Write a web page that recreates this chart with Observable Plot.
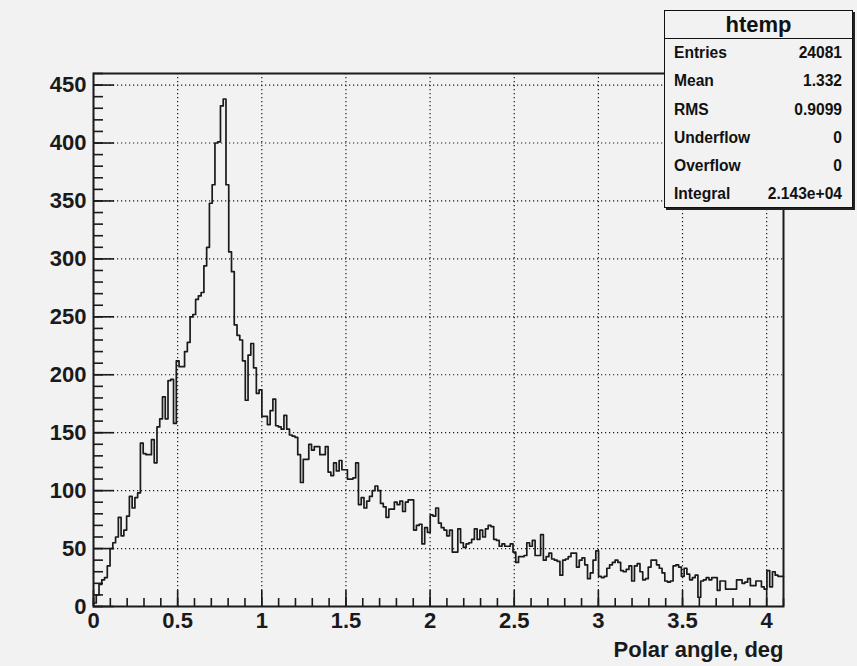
<!DOCTYPE html>
<html><head><meta charset="utf-8">
<script src="https://cdn.jsdelivr.net/npm/d3@7"></script>
<script src="https://cdn.jsdelivr.net/npm/@observablehq/plot@0.6"></script>
<style>
html,body{margin:0;padding:0;background:#f2f2f2;}
#wrap{position:relative;width:857px;height:666px;font-family:"Liberation Sans",Arial,Helvetica,sans-serif;}
#stats{position:absolute;left:664px;top:10px;width:189px;height:198px;box-sizing:border-box;border:1px solid #111;background:#f2f2f2;box-shadow:2px 2px 0 #222;font-weight:bold;color:#111;}
#stats .title{height:27px;line-height:27px;text-align:center;font-size:22px;border-bottom:1px solid #111;}
#stats .row{display:flex;justify-content:space-between;height:28.3px;line-height:28.3px;font-size:15.6px;padding:0 10px 0 9px;}
</style></head>
<body><div id="wrap"><div id="chart"></div><div id="stats"></div></div>
<script>
const xRange = [0, 4.1];
const yRange = [0, 460];
const counts = [
  3, 10, 19, 23, 25, 35, 50, 55, 60, 77,
  61, 66, 78, 95, 85, 94, 98, 141, 132, 131,
  131, 144, 124, 155, 162, 181, 162, 195, 196, 158,
  212, 207, 207, 220, 228, 250, 252, 265, 268, 271,
  294, 310, 348, 364, 400, 401, 432, 438, 364, 306,
  289, 243, 234, 230, 212, 178, 217, 227, 206, 184,
  187, 164, 164, 157, 169, 179, 156, 155, 153, 165,
  153, 148, 147, 146, 131, 107,
  127, 127, 140, 135, 138, 138, 131, 131, 138, 116,
  113, 124, 117, 126, 118, 118, 110, 110, 111, 124,
  88, 94, 85, 91, 95, 100, 104, 100, 89, 86,
  77, 84, 84, 90, 88, 91, 82, 90, 92, 92,
  66, 70, 71, 54, 68, 64, 79, 78, 85, 72,
  68, 66, 61, 66, 47, 47, 67, 55, 51, 54,
  55, 58, 67, 58, 66, 60, 67, 70, 69, 58,
  57, 52, 54, 52, 52, 54, 47, 38, 43, 43,
  44, 55, 52, 57, 44, 44,
  62, 40, 43, 46, 41, 40, 39, 27, 40, 41,
  43, 46, 46, 34, 40, 42, 36, 24, 29, 40, 48,
  26, 25, 26, 33, 36, 38, 40, 38, 31, 30,
  32, 35, 22, 35, 37, 30, 23, 24, 34, 40,
  40, 36, 33, 29, 22, 21, 22, 35, 36, 34,
  26, 33, 28, 23, 25, 27, 8, 22, 23, 25,
  23, 25, 25, 14, 22, 22, 15, 15, 15, 15,
  23, 23, 20, 21, 24, 18, 18, 22, 22, 17,
  15, 31, 17, 30, 27, 26, 26
];
const xMajorTicks = [0, 0.5, 1, 1.5, 2, 2.5, 3, 3.5, 4];
const yMajorTicks = [0, 50, 100, 150, 200, 250, 300, 350, 400, 450];
const xMinorStep = 0.1;
const yMinorStep = 10;
const xLabel = "Polar angle, deg";
const statsTitle = "htemp";
const statsNames = ["Entries", "Mean", "RMS", "Underflow", "Overflow", "Integral"];
const statsValues = ["24081", "1.332", "0.9099", "0", "0", "2.143e+04"];

const W = 857, H = 666, mL = 93, mR = 74, mT = 73, mB = 60;
const frameW = W - mL - mR, frameH = H - mT - mB;

const binW = (xRange[1] - xRange[0]) / counts.length;
const pts = counts.map((c, i) => ({x: xRange[0] + i * binW, y: c}));
pts.push({x: xRange[1], y: counts[counts.length - 1]});
const xMinor = d3.range(xRange[0], xRange[1] + 1e-9, xMinorStep);
const yMinor = d3.range(yRange[0], yRange[1] + 1e-9, yMinorStep);

const ink = "#1a1a1a";
const gridOpts = {stroke: ink, strokeOpacity: 1, strokeWidth: 1.2, strokeDasharray: "1.2,2.8"};
const tickStyle = {stroke: ink, strokeWidth: 1.6, strokeOpacity: 1};

const chart = Plot.plot({
  width: W, height: H,
  marginLeft: mL, marginRight: mR, marginTop: mT, marginBottom: mB,
  style: {background: "#f2f2f2", fontFamily: "Liberation Sans, Arial, sans-serif", fontSize: "22px", fontWeight: "bold", color: ink, overflow: "visible"},
  x: {domain: xRange},
  y: {domain: yRange},
  marks: [
    Plot.gridX(xMajorTicks, gridOpts),
    Plot.gridY(yMajorTicks, gridOpts),
    Plot.tickX(xMinor, {x: d => d, insetTop: frameH - 8, ...tickStyle}),
    Plot.tickX(xMajorTicks, {x: d => d, insetTop: frameH - 16, ...tickStyle}),
    Plot.tickY(yMinor, {y: d => d, insetRight: frameW - 10, ...tickStyle}),
    Plot.tickY(yMajorTicks, {y: d => d, insetRight: frameW - 21, ...tickStyle}),
    Plot.line(pts, {x: "x", y: "y", curve: "step-after", stroke: ink, strokeWidth: 1.7}),
    Plot.frame({stroke: ink, strokeWidth: 2}),
    Plot.axisX(xMajorTicks, {tickSize: 0, tickPadding: 6, tickFormat: d => String(d), fontSize: 22, fontWeight: "bold", label: null}),
    Plot.axisY(yMajorTicks, {tickSize: 0, tickPadding: 7, tickFormat: d => String(d), fontSize: 22, fontWeight: "bold", label: null}),
    Plot.text([xLabel], {text: d => d, frameAnchor: "bottom-right", textAnchor: "end", lineAnchor: "bottom", dy: 50, fontSize: 22, fontWeight: "bold", fill: ink})
  ]
});
document.getElementById("chart").appendChild(chart);

const stats = document.getElementById("stats");
const t = document.createElement("div");
t.className = "title"; t.textContent = statsTitle; stats.appendChild(t);
statsNames.forEach((n, i) => {
  const r = document.createElement("div"); r.className = "row";
  const a = document.createElement("span"); a.textContent = n;
  const b = document.createElement("span"); b.textContent = statsValues[i];
  r.appendChild(a); r.appendChild(b); stats.appendChild(r);
});
</script>
</body></html>
